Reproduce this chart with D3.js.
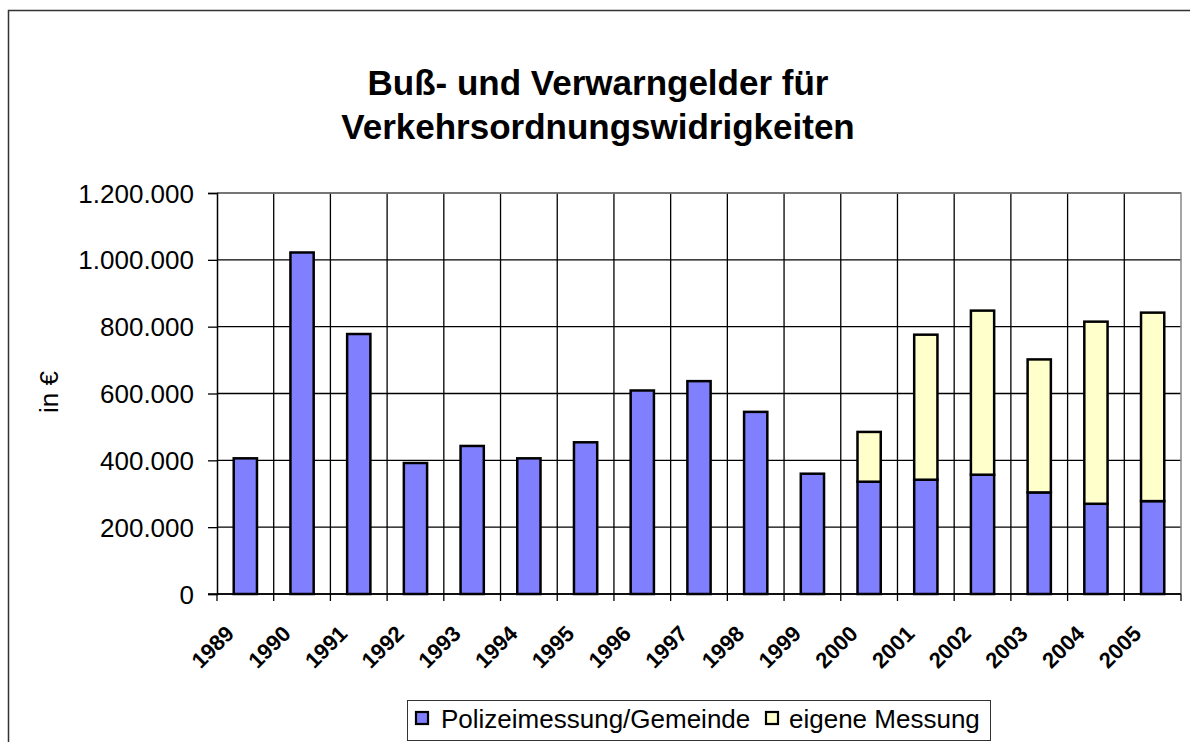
<!DOCTYPE html>
<html>
<head>
<meta charset="utf-8">
<script src="https://cdn.jsdelivr.net/npm/d3@7"></script>
<style>
  body { margin: 0; background: #fff; }
  svg { display: block; font-family: Arial, "Liberation Sans", sans-serif; }
</style>
</head>
<body>
<svg id="chart"></svg>
<script>
// values
const years = ["1989","1990","1991","1992","1993","1994","1995","1996","1997","1998","1999","2000","2001","2002","2003","2004","2005"];
const polizei = [406000, 1022000, 778000, 392000, 443000, 406000, 454000, 609000, 637000, 545000, 360000, 336000, 342000, 357000, 304000, 270000, 278000];
const eigene = [0, 0, 0, 0, 0, 0, 0, 0, 0, 0, 0, 149000, 434000, 491000, 398000, 545000, 564000];
const yTicks = [0, 200000, 400000, 600000, 800000, 1000000, 1200000];
const seriesNames = ["Polizeimessung/Gemeinde", "eigene Messung"];
const seriesColors = ["#8080ff", "#ffffcc"];

const width = 1190, height = 742;
const margin = { top: 193, right: 9, bottom: 148, left: 217 };

const svg = d3.select("#chart").attr("width", width).attr("height", height);

// outer chart frame (right/bottom edges fall outside the picture)
svg.append("path")
  .attr("d", `M8.5,${height} V10.5 H${width}`)
  .attr("fill", "none").attr("stroke", "#333").attr("stroke-width", 1.5);

// title
const title = svg.append("text")
  .attr("text-anchor", "middle")
  .attr("font-weight", "bold")
  .attr("font-size", 35);
title.append("tspan").attr("x", 598).attr("y", 95).text("Buß- und Verwarngelder für");
title.append("tspan").attr("x", 598).attr("y", 139).text("Verkehrsordnungswidrigkeiten");

const x = d3.scaleBand().domain(years).range([margin.left, width - margin.right]).padding(0);
const y = d3.scaleLinear().domain([0, 1200000]).range([height - margin.bottom, margin.top]);

// horizontal gridlines
svg.append("g")
  .selectAll("line")
  .data(yTicks)
  .join("line")
  .attr("x1", margin.left).attr("x2", width - margin.right)
  .attr("y1", (d) => y(d)).attr("y2", (d) => y(d))
  .attr("stroke", "#000").attr("stroke-width", 1.3);

// vertical gridlines at category boundaries
svg.append("g")
  .selectAll("line")
  .data(years.slice(1))
  .join("line")
  .attr("x1", (d) => x(d)).attr("x2", (d) => x(d))
  .attr("y1", y(1200000)).attr("y2", y(0))
  .attr("stroke", "#000").attr("stroke-width", 1.3);

// plot border top/right (grey)
svg.append("path")
  .attr("d", `M${margin.left},${y(1200000)} H${width - margin.right} V${y(0)}`)
  .attr("fill", "none").attr("stroke", "#888").attr("stroke-width", 1.5);

// stacked bars
const table = years.map((yr, i) => ({ year: yr, p: polizei[i], e: eigene[i] }));
const stacked = d3.stack().keys(["p", "e"])(table);
const barW = x.bandwidth() * 0.41;

svg.append("g")
  .selectAll("g")
  .data(stacked)
  .join("g")
  .attr("fill", (d, i) => seriesColors[i])
  .selectAll("rect")
  .data((d) => d.filter((s) => s[1] - s[0] > 0))
  .join("rect")
  .attr("x", (d) => x(d.data.year) + (x.bandwidth() - barW) / 2)
  .attr("y", (d) => y(d[1]))
  .attr("width", barW)
  .attr("height", (d) => y(d[0]) - y(d[1]))
  .attr("stroke", "#000")
  .attr("stroke-width", 2.5);

// y axis
const yAxis = svg.append("g")
  .attr("transform", `translate(${margin.left},0)`)
  .call(d3.axisLeft(y).tickValues(yTicks).tickSize(9).tickPadding(14)
    .tickFormat((d) => d3.format(",")(d).replace(/,/g, ".")));
yAxis.select(".domain").attr("stroke", "#000").attr("stroke-width", 1.5);
yAxis.selectAll(".tick line").attr("stroke", "#000").attr("stroke-width", 1.3);
yAxis.selectAll("text")
  .attr("font-size", 26)
  .attr("font-family", "Arial, 'Liberation Sans', sans-serif")
  .attr("fill", "#000")
  .attr("dy", "0.35em");

svg.append("text")
  .attr("transform", "translate(58,392) rotate(-90)")
  .attr("text-anchor", "middle")
  .attr("font-size", 26)
  .text("in €");

// x axis: ticks at category boundaries
const xAxisG = svg.append("g").attr("transform", `translate(0,${y(0)})`);
xAxisG.append("line")
  .attr("x1", margin.left - 9).attr("x2", width - margin.right)
  .attr("stroke", "#000").attr("stroke-width", 1.5);
xAxisG.selectAll(".tk")
  .data(years.concat(["end"]))
  .join("line")
  .attr("class", "tk")
  .attr("x1", (d) => (d === "end" ? width - margin.right : x(d)))
  .attr("x2", (d) => (d === "end" ? width - margin.right : x(d)))
  .attr("y1", 0).attr("y2", 7)
  .attr("stroke", "#000").attr("stroke-width", 1.3);

xAxisG.selectAll(".lbl")
  .data(years)
  .join("text")
  .attr("class", "lbl")
  .attr("transform", (d) => `translate(${x(d) + x.bandwidth() / 2 - 10},41) rotate(-45)`)
  .attr("text-anchor", "end")
  .attr("font-weight", "bold")
  .attr("font-size", 22)
  .text((d) => d);

// legend
const legend = svg.append("g");
legend.append("rect")
  .attr("x", 407.5).attr("y", 700.5).attr("width", 583).attr("height", 40)
  .attr("fill", "#fff").attr("stroke", "#333").attr("stroke-width", 1);

const legendX = [416, 766];
seriesNames.forEach((name, i) => {
  legend.append("rect")
    .attr("x", legendX[i]).attr("y", 712)
    .attr("width", 12).attr("height", 12)
    .attr("fill", seriesColors[i])
    .attr("stroke", "#000").attr("stroke-width", 2.2);
  legend.append("text")
    .attr("x", legendX[i] + (i === 0 ? 25 : 23)).attr("y", 728)
    .attr("font-size", 26)
    .text(name);
});
</script>
</body>
</html>
